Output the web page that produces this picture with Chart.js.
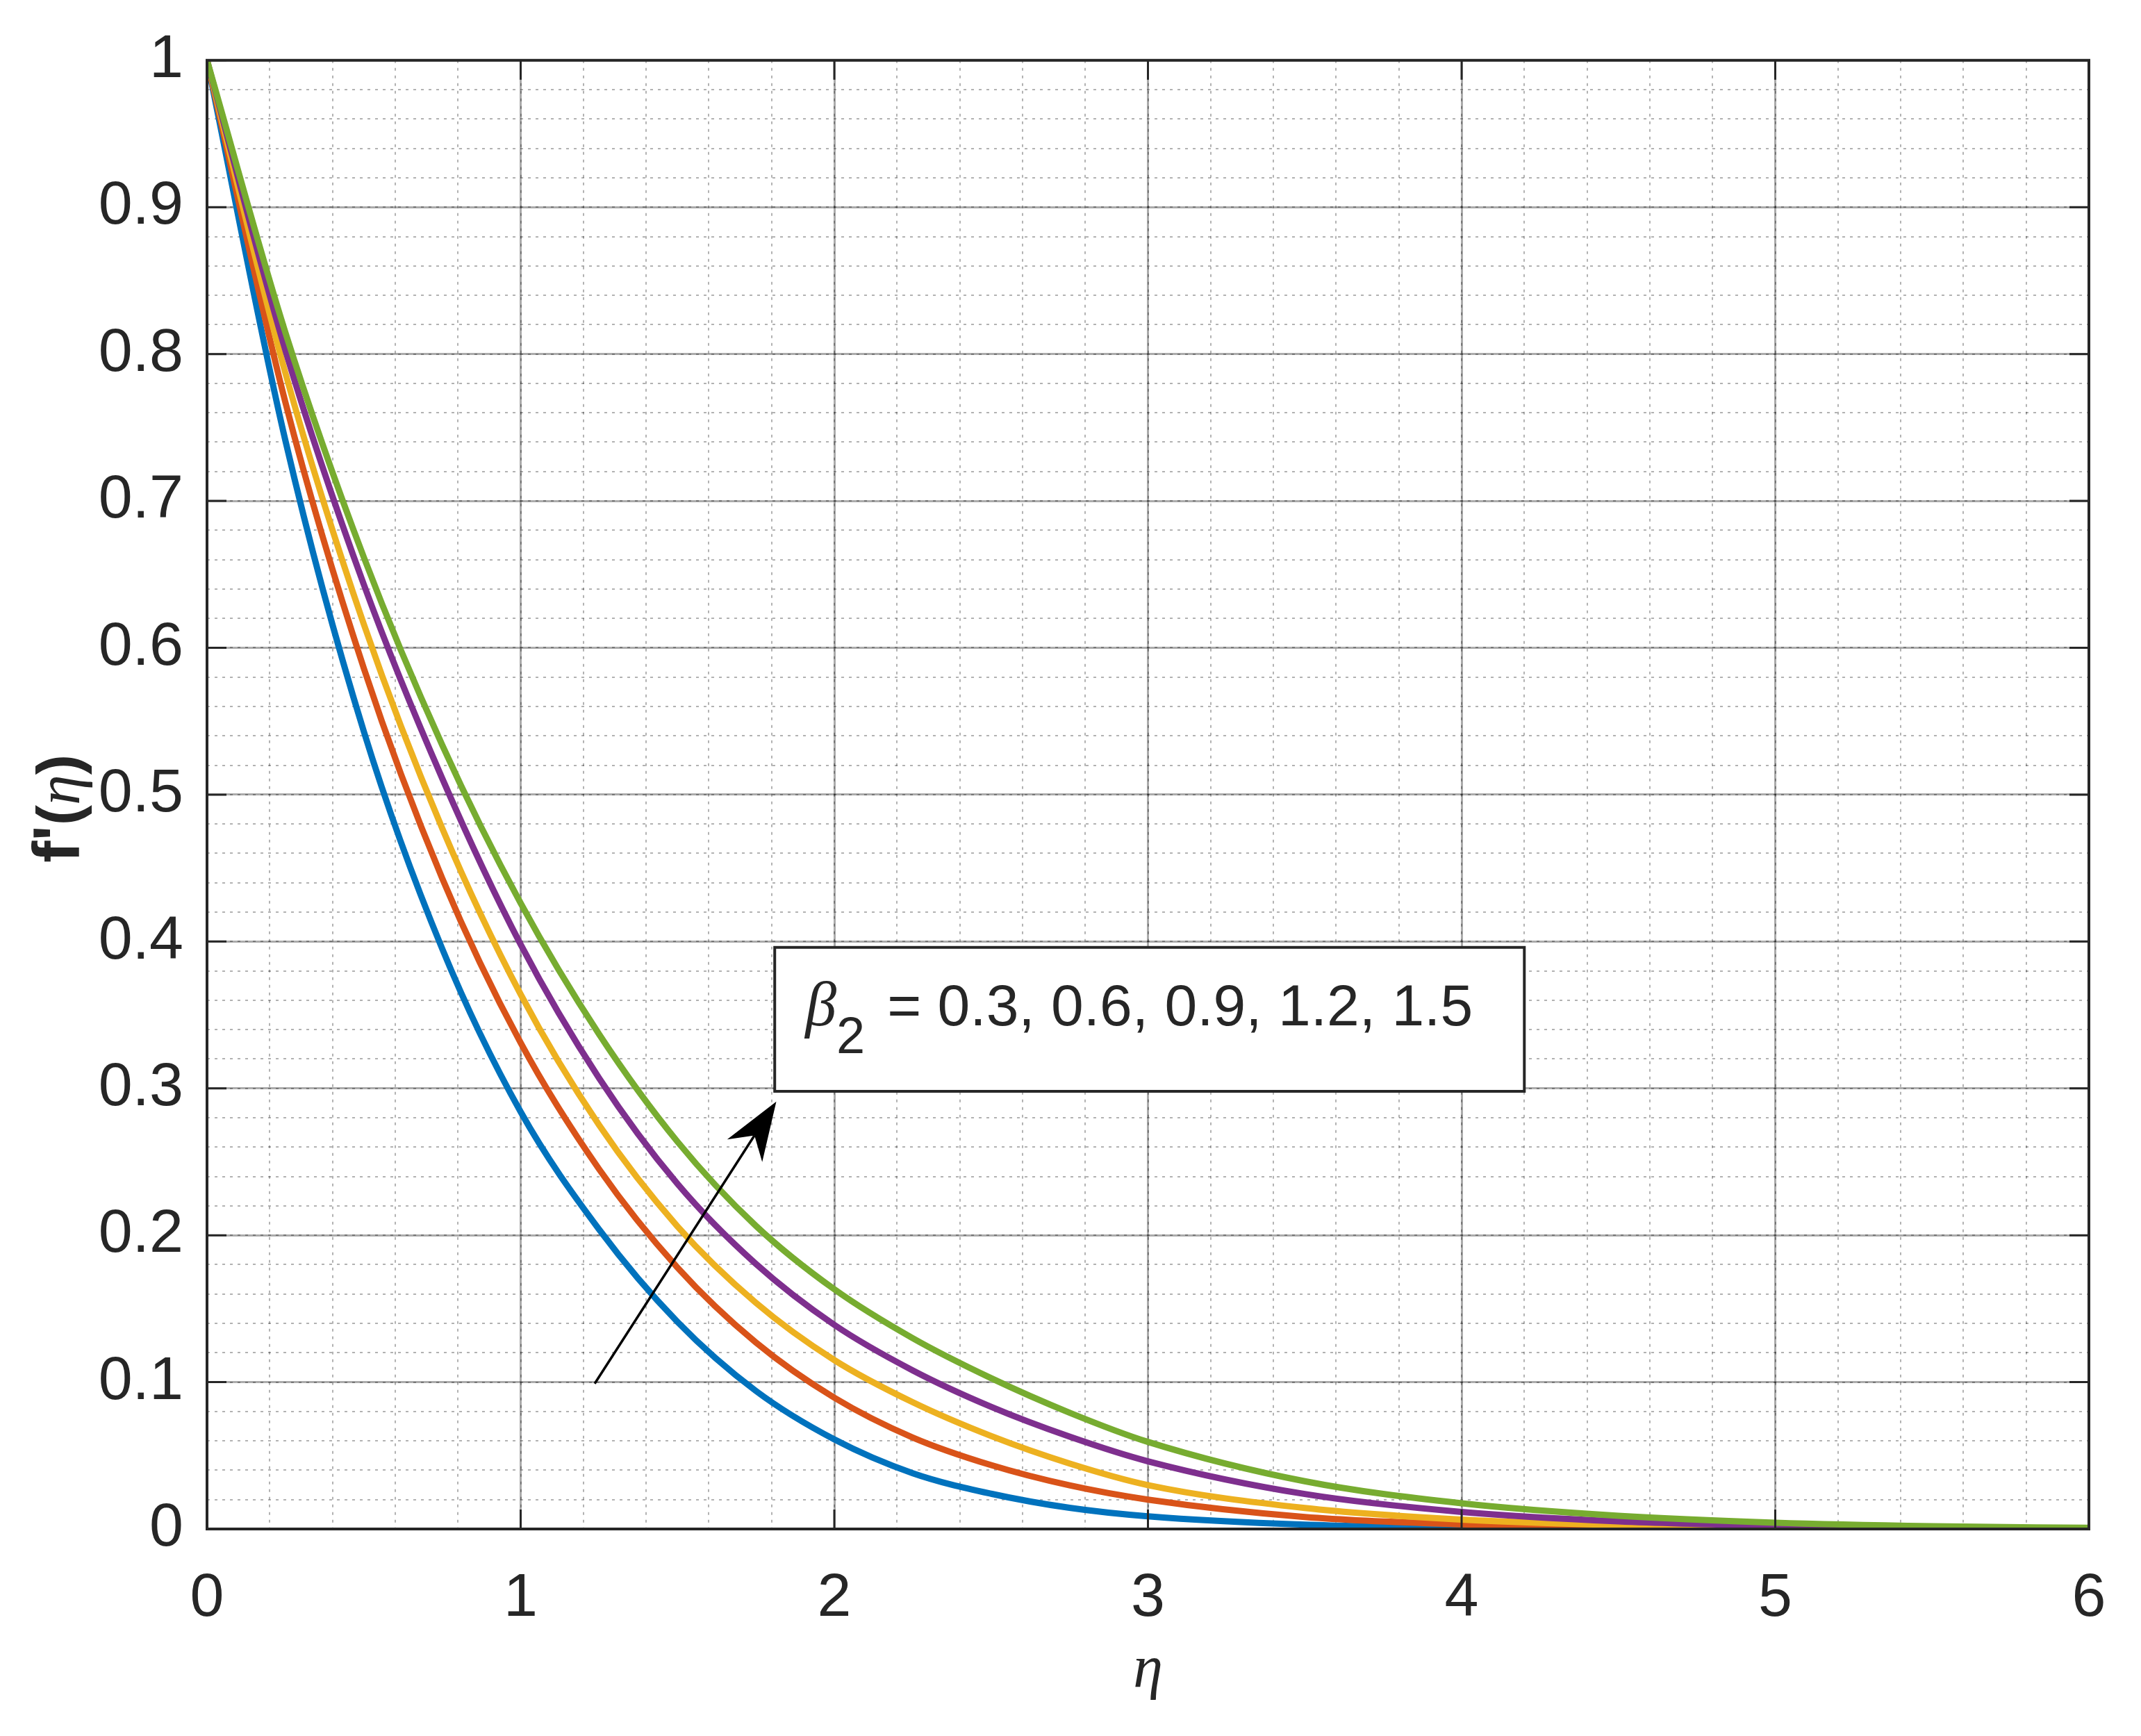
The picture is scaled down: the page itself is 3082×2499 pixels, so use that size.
<!DOCTYPE html>
<html>
<head>
<meta charset="utf-8">
<script src="https://cdn.jsdelivr.net/npm/chart.js@4.4.1/dist/chart.umd.min.js"></script>
<style>
  body { margin: 0; background: #ffffff; }
  canvas { display: block; }
</style>
</head>
<body>
<canvas id="velocityChart" width="3082" height="2499"></canvas>
<script>
var eta = [0, 0.25, 0.5, 0.75, 1, 1.25, 1.5, 1.75, 2, 2.25, 2.5, 2.75, 3, 3.5, 4, 4.5, 5, 5.5, 6];

// f'(eta) for each beta2
var fBeta03 = [1, 0.741, 0.543, 0.395, 0.284, 0.204, 0.141, 0.094, 0.061, 0.038, 0.024, 0.0144, 0.0086, 0.0029, 0.0009, 0.0003, 0.0001, 0, 0];
var fBeta06 = [1, 0.767, 0.586, 0.443, 0.331, 0.245, 0.178, 0.127, 0.0894, 0.0623, 0.0435, 0.0297, 0.020, 0.0082, 0.0032, 0.0012, 0.0004, 0.0001, 0];
var fBeta09 = [1, 0.787, 0.616, 0.477, 0.364, 0.275, 0.206, 0.154, 0.115, 0.0863, 0.0633, 0.0446, 0.0299, 0.0143, 0.0064, 0.0027, 0.0011, 0.0004, 0.0002];
var fBeta12 = [1, 0.8025, 0.643, 0.511, 0.398, 0.307, 0.235, 0.1805, 0.139, 0.108, 0.0832, 0.0629, 0.0461, 0.0238, 0.0116, 0.0052, 0.0022, 0.0008, 0.0003];
var fBeta15 = [1, 0.8146, 0.6616, 0.5337, 0.4261, 0.3369, 0.2637, 0.2064, 0.1632, 0.1299, 0.1027, 0.0792, 0.0593, 0.0325, 0.0175, 0.0090, 0.0043, 0.0019, 0.0008];

var seriesNames = ['0.3', '0.6', '0.9', '1.2', '1.5'];
var seriesValues = [fBeta03, fBeta06, fBeta09, fBeta12, fBeta15];

// matlab default line colours
var palette = ['#0072BD', '#D95319', '#EDB120', '#7E2F8E', '#77AC30'];

// annotation: text box corners and arrow ends, in data units (eta, f')
var boxFrom = [1.81, 0.298];
var boxTo = [4.20, 0.396];
var arrowFrom = [1.236, 0.099];
var arrowTo = [1.815, 0.291];

var sans = "'Liberation Sans', Arial, sans-serif";
var serif = "'Liberation Serif', 'Times New Roman', serif";
var ink = '#262626';

function toPoints(xs, ys) {
  return xs.map(function (x, i) { return { x: x, y: ys[i] }; });
}

// draws the axes box, inward ticks, axis titles and the beta2 note with arrow
var extrasPlugin = {
  id: 'extras',
  afterDatasetsDraw: function (chart) {
    var ctx = chart.ctx;
    var area = chart.chartArea;
    var xs = chart.scales.x;
    var ys = chart.scales.y;

    ctx.save();
    // inward tick marks
    ctx.strokeStyle = ink;
    ctx.lineWidth = 3;
    ctx.beginPath();
    xs.ticks.forEach(function (t) {
      var px = xs.getPixelForValue(t.value);
      ctx.moveTo(px, area.bottom); ctx.lineTo(px, area.bottom - 28);
      ctx.moveTo(px, area.top); ctx.lineTo(px, area.top + 28);
    });
    ys.ticks.forEach(function (t) {
      var py = ys.getPixelForValue(t.value);
      ctx.moveTo(area.left, py); ctx.lineTo(area.left + 28, py);
      ctx.moveTo(area.right, py); ctx.lineTo(area.right - 28, py);
    });
    ctx.stroke();

    // box round the plot
    ctx.lineWidth = 4;
    ctx.strokeRect(area.left, area.top, area.right - area.left, area.bottom - area.top);

    // note box
    var bx0 = xs.getPixelForValue(boxFrom[0]);
    var by0 = ys.getPixelForValue(boxTo[1]);
    var bx1 = xs.getPixelForValue(boxTo[0]);
    var by1 = ys.getPixelForValue(boxFrom[1]);
    ctx.fillStyle = '#ffffff';
    ctx.fillRect(bx0, by0, bx1 - bx0, by1 - by0);
    ctx.strokeStyle = ink;
    ctx.lineWidth = 4;
    ctx.strokeRect(bx0, by0, bx1 - bx0, by1 - by0);

    var base = by0 + 112;
    ctx.fillStyle = ink;
    ctx.textBaseline = 'alphabetic';
    ctx.textAlign = 'left';
    ctx.font = 'italic 90px ' + serif;
    ctx.fillText('\u03B2', bx0 + 44, base);
    var bw = ctx.measureText('\u03B2').width;
    ctx.font = '74px ' + sans;
    ctx.fillText('2', bx0 + 44 + bw, base + 40);
    var sw = ctx.measureText('2').width;
    ctx.font = '84px ' + sans;
    ctx.fillText('= 0.3, 0.6, 0.9, 1.2, 1.5', bx0 + 44 + bw + sw + 32, base);

    // arrow
    var ax0 = xs.getPixelForValue(arrowFrom[0]);
    var ay0 = ys.getPixelForValue(arrowFrom[1]);
    var ax1 = xs.getPixelForValue(arrowTo[0]);
    var ay1 = ys.getPixelForValue(arrowTo[1]);
    var dx = ax1 - ax0, dy = ay1 - ay0;
    var len = Math.sqrt(dx * dx + dy * dy);
    var ux = dx / len, uy = dy / len;
    var head = 84, half = 30, back = 58;
    ctx.strokeStyle = '#000000';
    ctx.lineWidth = 3.5;
    ctx.beginPath();
    ctx.moveTo(ax0, ay0);
    ctx.lineTo(ax1 - ux * back, ay1 - uy * back);
    ctx.stroke();
    ctx.fillStyle = '#000000';
    ctx.beginPath();
    ctx.moveTo(ax1, ay1);
    ctx.lineTo(ax1 - ux * head - uy * half, ay1 - uy * head + ux * half);
    ctx.lineTo(ax1 - ux * back, ay1 - uy * back);
    ctx.lineTo(ax1 - ux * head + uy * half, ay1 - uy * head - ux * half);
    ctx.closePath();
    ctx.fill();

    // x title
    ctx.fillStyle = ink;
    ctx.textAlign = 'center';
    ctx.textBaseline = 'middle';
    ctx.font = 'italic 86px ' + serif;
    ctx.fillText('\u03B7', (area.left + area.right) / 2, 2405);

    // y title, rotated: bold f' then (eta)
    ctx.translate(84, (area.top + area.bottom) / 2 + 20);
    ctx.rotate(-Math.PI / 2);
    var parts = [
      { t: "f'", f: 'bold 94px ' + sans },
      { t: '(', f: 'bold 88px ' + sans },
      { t: '\u03B7', f: 'italic 88px ' + serif },
      { t: ')', f: 'bold 88px ' + sans }
    ];
    var total = 0;
    parts.forEach(function (p) { ctx.font = p.f; p.w = ctx.measureText(p.t).width; total += p.w; });
    var cx = -total / 2;
    ctx.textAlign = 'left';
    ctx.textBaseline = 'alphabetic';
    parts.forEach(function (p) { ctx.font = p.f; ctx.fillText(p.t, cx, 30); cx += p.w; });
    ctx.restore();
  }
};

var whiteBackground = {
  id: 'whiteBackground',
  beforeDraw: function (chart) {
    var ctx = chart.ctx;
    ctx.save();
    ctx.fillStyle = '#ffffff';
    ctx.fillRect(0, 0, chart.width, chart.height);
    ctx.restore();
  }
};

function BuildChart() {
  var ctx = document.getElementById('velocityChart').getContext('2d');
  var datasets = seriesValues.map(function (vals, i) {
    return {
      label: '\u03B2\u2082 = ' + seriesNames[i],
      data: toPoints(eta, vals),
      borderColor: palette[i],
      backgroundColor: palette[i],
      borderWidth: 9,
      pointRadius: 0,
      cubicInterpolationMode: 'monotone',
      fill: false,
      order: seriesValues.length - i
    };
  });

  var minorGrid = { color: 'rgba(0,0,0,0.3)', lineWidth: 2, drawTicks: false };

  return new Chart(ctx, {
    type: 'line',
    data: { datasets: datasets },
    options: {
      responsive: false,
      animation: false,
      layout: { padding: { left: 0, top: 62, right: 75, bottom: 0 } },
      plugins: { legend: { display: false }, tooltip: { enabled: false } },
      scales: {
        xMinor: {
          type: 'linear', position: 'bottom', min: 0, max: 6,
          ticks: { stepSize: 0.2, display: false },
          grid: minorGrid,
          border: { display: false, dash: [4, 7] },
          afterFit: function (s) { s.height = 0; }
        },
        yMinor: {
          type: 'linear', position: 'left', min: 0, max: 1,
          ticks: { stepSize: 0.02, display: false },
          grid: minorGrid,
          border: { display: false, dash: [4, 7] },
          afterFit: function (s) { s.width = 0; }
        },
        x: {
          type: 'linear', position: 'bottom', min: 0, max: 6,
          ticks: { stepSize: 1, color: ink, padding: 48, font: { family: sans, size: 88 } },
          grid: { color: 'rgba(0,0,0,0.33)', lineWidth: 3, drawTicks: false },
          border: { display: false },
          afterFit: function (s) { s.height = 298; }
        },
        y: {
          type: 'linear', position: 'left', min: 0, max: 1,
          ticks: {
            stepSize: 0.1, color: ink, padding: 34, font: { family: sans, size: 88 },
            callback: function (v) { return String(Math.round(v * 10) / 10); }
          },
          grid: { color: 'rgba(0,0,0,0.33)', lineWidth: 3, drawTicks: false },
          border: { display: false },
          afterFit: function (s) { s.width = 298; }
        }
      }
    },
    plugins: [whiteBackground, extrasPlugin]
  });
}

BuildChart();
</script>
</body>
</html>
